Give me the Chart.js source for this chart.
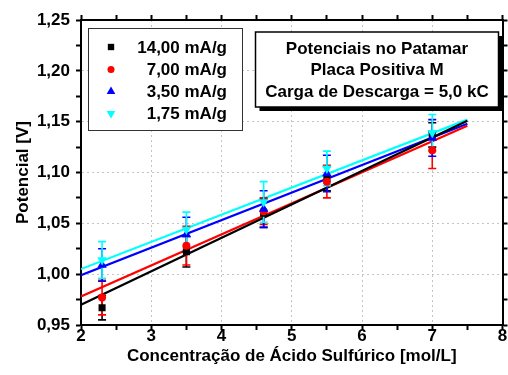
<!DOCTYPE html>
<html>
<head>
<meta charset="utf-8">
<script src="https://cdn.jsdelivr.net/npm/chart.js@4/dist/chart.umd.min.js"></script>
<style>
  html, body { margin: 0; padding: 0; background: #fff; }
  #wrap { width: 508px; height: 375px; }
</style>
</head>
<body>
<div id="wrap"><canvas id="c" width="508" height="375"></canvas></div>
<script>
// Sulfuric acid concentration [mol/L]
const concentration = [2.3, 3.5, 4.6, 5.5, 7.0];

// Plateau potential [V] and its uncertainty, one pair per discharge rate
const potential14 = [0.967, 1.022, 1.060, 1.094, 1.137];
const error14     = [0.012, 0.015, 0.014, 0.012, 0.012];
const potential7  = [0.977, 1.028, 1.062, 1.091, 1.122];
const error7      = [0.017, 0.019, 0.013, 0.016, 0.018];
const potential35 = [1.009, 1.039, 1.064, 1.099, 1.134];
const error35     = [0.016, 0.017, 0.018, 0.018, 0.018];
const potential175 = [1.014, 1.044, 1.071, 1.104, 1.139];
const error175     = [0.018, 0.017, 0.020, 0.017, 0.018];

// Linear fits: value at the start and end of the fitted range
const fitRange = [2.0, 7.5];
const fitStart = [0.970, 0.978, 0.999, 1.005];
const fitEnd   = [1.151, 1.146, 1.148, 1.152];

const seriesLabels = ['14,00 mA/g', '7,00 mA/g', '3,50 mA/g', '1,75 mA/g'];
const seriesColors = ['#000000', '#ff0000', '#0000ff', '#00ffff'];
const seriesMarkers = [
  { style: 'rect', radius: 5, rotation: 0 },
  { style: 'circle', radius: 4, rotation: 0 },
  { style: 'triangle', radius: 5.5, rotation: 0 },
  { style: 'triangle', radius: 5.5, rotation: 180 }
];

const infoLines = ['Potenciais no Patamar', 'Placa Positiva M', 'Carga de Descarga = 5,0 kC'];
const xTitle = 'Concentração de Ácido Sulfúrico [mol/L]';
const yTitle = 'Potencial [V]';

const potentials = [potential14, potential7, potential35, potential175];
const errors = [error14, error7, error35, error175];

const FONT = '"Liberation Sans", Arial, sans-serif';
const boldFont = { family: FONT, size: 17, weight: 'bold' };
const gridGrey = '#c4c4c4';
const clear = 'rgba(0,0,0,0)';

const isMultiple = (v, step) => Math.abs(v / step - Math.round(v / step)) < 1e-6;

const scatterSets = potentials.map((vals, i) => ({
  label: seriesLabels[i],
  type: 'scatter',
  data: concentration.map((c, j) => ({ x: c, y: vals[j] })),
  pointStyle: seriesMarkers[i].style,
  pointRadius: seriesMarkers[i].radius,
  rotation: seriesMarkers[i].rotation,
  pointBackgroundColor: seriesColors[i],
  pointBorderColor: seriesColors[i],
  pointBorderWidth: 0,
  showLine: false,
  order: 4 - i
}));

const fitSets = fitStart.map((s, i) => ({
  label: 'fit ' + seriesLabels[i],
  type: 'line',
  data: [{ x: fitRange[0], y: s }, { x: fitRange[1], y: fitEnd[i] }],
  borderColor: seriesColors[i],
  borderWidth: 2.2,
  pointRadius: 0,
  fill: false,
  tension: 0,
  order: 5
}));

// Vertical error bars with caps, drawn just before the first marker series
const errorBars = {
  id: 'errorBars',
  beforeDatasetDraw(chart, args) {
    if (args.index !== 0) return;
    const { ctx, chartArea, scales: { x, y } } = chart;
    ctx.save();
    ctx.beginPath();
    ctx.rect(chartArea.left, chartArea.top, chartArea.right - chartArea.left, chartArea.bottom - chartArea.top);
    ctx.clip();
    ctx.lineWidth = 1.6;
    potentials.forEach((vals, i) => {
      ctx.strokeStyle = seriesColors[i];
      vals.forEach((v, j) => {
        const px = x.getPixelForValue(concentration[j]);
        const lo = y.getPixelForValue(v - errors[i][j]);
        const hi = y.getPixelForValue(v + errors[i][j]);
        ctx.beginPath();
        ctx.moveTo(px, lo); ctx.lineTo(px, hi);
        ctx.moveTo(px - 4, lo); ctx.lineTo(px + 4, lo);
        ctx.moveTo(px - 4, hi); ctx.lineTo(px + 4, hi);
        ctx.stroke();
      });
    });
    ctx.restore();
  }
};

// Legend box and caption box inside the plot
const boxes = {
  id: 'boxes',
  afterDraw(chart) {
    const ctx = chart.ctx;
    ctx.save();
    ctx.font = 'bold 17px ' + FONT;
    ctx.textBaseline = 'middle';

    // legend
    ctx.fillStyle = '#fff';
    ctx.fillRect(88, 28.5, 155, 102);
    ctx.strokeStyle = '#333';
    ctx.lineWidth = 1;
    ctx.strokeRect(88.5, 28.5, 154, 102);
    const rowY = [47, 69.5, 91.5, 113.5];
    seriesLabels.forEach((label, i) => {
      ctx.fillStyle = seriesColors[i];
      ctx.strokeStyle = seriesColors[i];
      Chart.helpers.drawPoint(ctx, {
        pointStyle: seriesMarkers[i].style,
        radius: seriesMarkers[i].radius - 0.5,
        rotation: seriesMarkers[i].rotation,
        borderWidth: 0
      }, 111, rowY[i]);
      ctx.fillStyle = '#000';
      ctx.textAlign = 'right';
      ctx.fillText(label, 227, rowY[i] + 1);
    });

    // caption with drop shadow
    const bx = 255.5, by = 32, bw = 243, bh = 75;
    ctx.fillStyle = '#000';
    ctx.fillRect(bx + 4, by + 4, bw, bh);
    ctx.fillStyle = '#fff';
    ctx.fillRect(bx, by, bw, bh);
    ctx.strokeStyle = '#000';
    ctx.lineWidth = 1.5;
    ctx.strokeRect(bx, by, bw, bh);
    ctx.fillStyle = '#000';
    ctx.textAlign = 'center';
    const capY = [49, 70.5, 92];
    infoLines.forEach((t, i) => ctx.fillText(t, 377, capY[i]));
    ctx.restore();
  }
};

new Chart(document.getElementById('c'), {
  data: { datasets: [...scatterSets, ...fitSets] },
  options: {
    responsive: false,
    animation: false,
    devicePixelRatio: 1,
    events: [],
    layout: { padding: 0 },
    plugins: { legend: { display: false }, tooltip: { enabled: false } },
    scales: {
      x: {
        type: 'linear', position: 'bottom', min: 2, max: 8,
        ticks: {
          stepSize: 0.5, autoSkip: false, maxRotation: 0, color: '#000', font: boldFont, padding: -4,
          callback: v => isMultiple(v, 1) ? String(Math.round(v)) : ''
        },
        grid: {
          color: c => (c.tick && isMultiple(c.tick.value, 1) && c.tick.value > 2.01 && c.tick.value < 7.99) ? gridGrey : clear,
          lineWidth: 1, tickColor: '#000', tickWidth: 2, tickLength: 5
        },
        border: { color: '#000', width: 2, dash: [2, 3] },
        title: { display: true, text: xTitle, color: '#000', font: boldFont, padding: { top: 0, bottom: 8 } },
        afterFit: s => { s.height = 50; s.paddingLeft = 0; s.paddingRight = 0; }
      },
      xTop: {
        type: 'linear', position: 'top', min: 2, max: 8,
        ticks: { stepSize: 0.5, autoSkip: false, display: false },
        grid: { drawOnChartArea: false, tickColor: '#000', tickWidth: 2, tickLength: 5 },
        border: { color: '#000', width: 2 },
        afterFit: s => { s.height = 20; s.paddingLeft = 0; s.paddingRight = 0; }
      },
      y: {
        type: 'linear', position: 'left', min: 0.95, max: 1.25,
        ticks: {
          stepSize: 0.025, autoSkip: false, color: '#000', font: boldFont, padding: 6,
          callback: v => isMultiple(v, 0.05) ? v.toFixed(2).replace('.', ',') : ''
        },
        grid: {
          color: c => (c.tick && isMultiple(c.tick.value, 0.05) && c.tick.value > 0.96 && c.tick.value < 1.24) ? gridGrey : clear,
          lineWidth: 1, tickColor: '#000', tickWidth: 2, tickLength: 5
        },
        border: { color: '#000', width: 2, dash: [2, 3] },
        title: { display: true, text: yTitle, color: '#000', font: boldFont, padding: { top: 13, bottom: 0 } },
        afterFit: s => { s.width = 81; s.paddingTop = 0; s.paddingBottom = 0; }
      },
      yRight: {
        type: 'linear', position: 'right', min: 0.95, max: 1.25,
        ticks: { stepSize: 0.025, autoSkip: false, display: false },
        grid: { drawOnChartArea: false, tickColor: '#000', tickWidth: 2, tickLength: 5 },
        border: { color: '#000', width: 2 },
        afterFit: s => { s.width = 3; }
      }
    }
  },
  plugins: [errorBars, boxes]
});
</script>
</body>
</html>
